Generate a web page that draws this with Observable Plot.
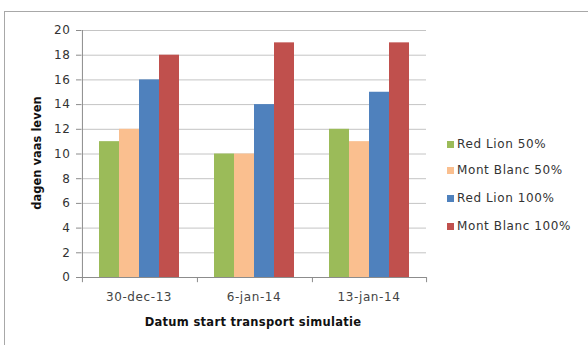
<!DOCTYPE html>
<html>
<head>
<meta charset="utf-8">
<script src="https://cdn.jsdelivr.net/npm/d3@7"></script>
<script src="https://cdn.jsdelivr.net/npm/@observablehq/plot@0.6"></script>
<style>
  html, body { margin: 0; padding: 0; background: #fff; overflow: hidden; }
  #wrap { position: relative; width: 588px; height: 345px; overflow: hidden; font-family: "DejaVu Sans", sans-serif; color: #404040; }
  #border { position: absolute; left: 4px; top: 11px; width: 700px; height: 500px; border-left: 1.5px solid #a8a8a8; border-top: 1.5px solid #a8a8a8; }
  #chart { position: absolute; left: 0; top: 0; }
  .title { position: absolute; font-weight: bold; font-size: 11.5px; color: #111; white-space: nowrap; }
  #xtitle { left: 253px; top: 315px; transform: translateX(-50%); letter-spacing: 0.3px; }
  #ytitle { left: 37px; top: 153px; transform: translate(-50%, -50%) rotate(-90deg); }
  .item { position: absolute; left: 447px; font-size: 12px; letter-spacing: 0.6px; white-space: nowrap; display: flex; align-items: center; color: #333; }
  .swatch { width: 7px; height: 7px; margin-right: 3px; }
</style>
</head>
<body>
<div id="wrap">
  <div id="border"></div>
  <div id="chart"></div>
  <div class="title" id="xtitle"></div>
  <div class="title" id="ytitle"></div>
</div>
<script>
// Start dates of the transport simulation
const dates = ["30-dec-13", "6-jan-14", "13-jan-14"];
// Series (variety and dose)
const seriesNames = ["Red Lion 50%", "Mont Blanc 50%", "Red Lion 100%", "Mont Blanc 100%"];
const redLion50 = [11, 10, 12];
const montBlanc50 = [12, 10, 11];
const redLion100 = [16, 14, 15];
const montBlanc100 = [18, 19, 19];
const seriesColors = ["#9bbb59", "#fabf8f", "#4f81bd", "#c0504d"];
const yTicks = [0, 2, 4, 6, 8, 10, 12, 14, 16, 18, 20];
const xTitle = "Datum start transport simulatie";
const yTitle = "dagen vaas leven";

const seriesValues = [redLion50, montBlanc50, redLion100, montBlanc100];
const table = [];
dates.forEach((date, i) => {
  seriesNames.forEach((s, j) => table.push({date, series: s, value: seriesValues[j][i]}));
});

const W = 588, H = 345;
const mL = 80, mR = 161, mT = 30, mB = 68;
const pOuter = 0.82;
// pixel offset from a band centre to the edge of its facet group
const facetW = (W - mL - mR) / dates.length;
const step = facetW / (seriesNames.length + 2 * pOuter);
const edge = pOuter * step + step / 2;

const axisColor = "#8c8c8c";
const gridColor = "#c4c4c4";

const chart = Plot.plot({
  width: W,
  height: H,
  marginTop: mT,
  marginBottom: mB,
  marginLeft: mL,
  marginRight: mR,
  style: {fontFamily: "DejaVu Sans, sans-serif", fontSize: "12px", background: "transparent", color: "#404040", letterSpacing: "0.6px"},
  fx: {domain: dates, padding: 0, label: null, axis: null},
  x: {domain: seriesNames, paddingInner: 0, paddingOuter: pOuter, axis: null},
  y: {domain: [0, 20], axis: null},
  color: {domain: seriesNames, range: seriesColors},
  marks: [
    Plot.gridY(yTicks, {stroke: gridColor, strokeOpacity: 1, strokeWidth: 1}),
    Plot.barY(table, {fx: "date", x: "series", y: "value", fill: "series"}),
    Plot.ruleY([0], {stroke: axisColor}),
    // vertical value axis line
    Plot.ruleX([dates[0]], {fx: d => d, x: () => seriesNames[0], y1: 0, y2: 20, dx: -edge, stroke: axisColor}),
    // category boundary ticks
    Plot.ruleX(dates, {fx: d => d, x: () => seriesNames[0], y1: 0, y2: -0.42, dx: -edge, stroke: axisColor}),
    Plot.ruleX([dates[dates.length - 1]], {fx: d => d, x: () => seriesNames[seriesNames.length - 1], y1: 0, y2: -0.42, dx: edge, stroke: axisColor}),
    Plot.axisY({ticks: yTicks, tickSize: 5, tickPadding: 6, stroke: axisColor, fill: "#333", label: null}),
    Plot.axisFx({anchor: "bottom", tickSize: 0, tickPadding: 15, fill: "#444", label: null})
  ]
});
document.getElementById("chart").appendChild(chart);

document.getElementById("xtitle").textContent = xTitle;
document.getElementById("ytitle").textContent = yTitle;

// legend
const legendTops = [137, 163, 191, 219];
const wrap = document.getElementById("wrap");
seriesNames.forEach((name, i) => {
  const item = document.createElement("div");
  item.className = "item";
  item.style.top = legendTops[i] + "px";
  const sw = document.createElement("span");
  sw.className = "swatch";
  sw.style.background = seriesColors[i];
  const label = document.createElement("span");
  label.textContent = name;
  item.appendChild(sw);
  item.appendChild(label);
  wrap.appendChild(item);
});
</script>
</body>
</html>
